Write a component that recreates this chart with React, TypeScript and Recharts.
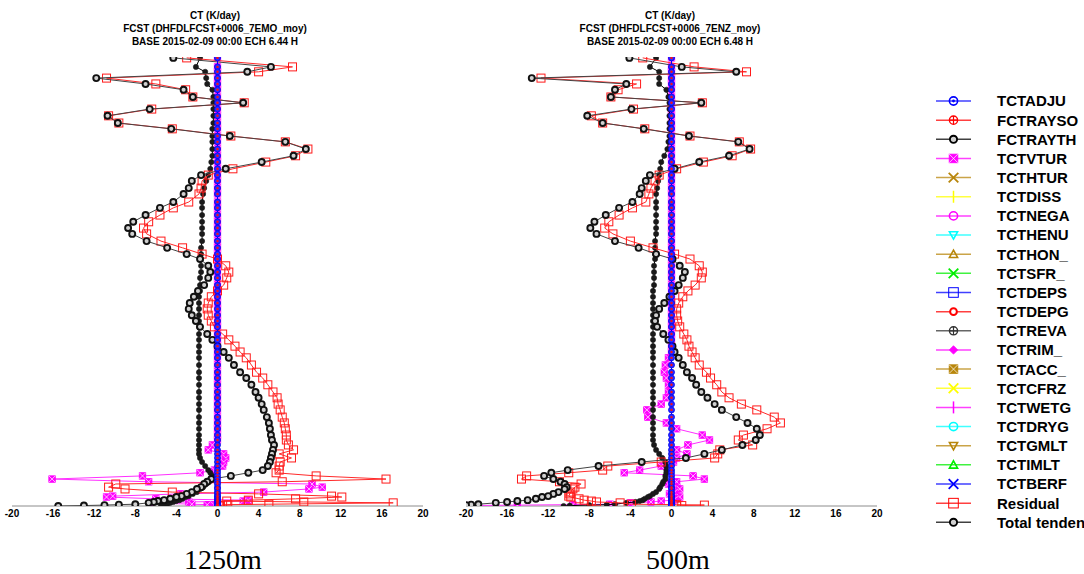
import React from 'react';
import { ScatterChart, Scatter, XAxis, YAxis } from 'recharts';

// model levels (pressure-like vertical coordinate, top -> bottom)
const levels = [
  2, 22, 33, 47, 60, 73, 89, 102, 116, 131,
  147, 160, 176, 189, 205, 220, 234, 249, 263, 276,
  292, 305, 323, 336, 352, 367, 381, 394, 410, 425,
  439, 450, 465, 479, 492, 508, 521, 534, 548, 561,
  575, 588, 601, 617, 630, 644, 657, 670, 686, 702,
  715, 730, 746, 759, 773, 786, 802, 815, 828, 842,
  853, 864, 875, 884, 893, 902, 911, 920, 926, 933,
  940, 946, 951, 958, 962, 969, 973, 978, 980, 984,
  987, 989, 991, 993, 996, 997, 998, 999, 1000,
];

const xTicks = [-20, -16, -12, -8, -4, 0, 4, 8, 12, 16, 20];

const zeroProfile = [
  0, 0, 0, 0, 0, 0, 0, 0, 0, 0,
  0, 0, 0, 0, 0, 0, 0, 0, 0, 0,
  0, 0, 0, 0, 0, 0, 0, 0, 0, 0,
  0, 0, 0, 0, 0, 0, 0, 0, 0, 0,
  0, 0, 0, 0, 0, 0, 0, 0, 0, 0,
  0, 0, 0, 0, 0, 0, 0, 0, 0, 0,
  0, 0, 0, 0, 0, 0, 0, 0, 0, 0,
  0, 0, 0, 0, 0, 0, 0, 0, 0, 0,
  0, 0, 0, 0, 0, 0, 0, 0, 0,
];

// ---- 1250m ----
const total1250 = [
  -4.3, 5.2, 2.9, -11.8, -7.0, -3.3, -2.4, 2.5, -6.6, -10.7,
  -9.7, -4.5, 1.2, 6.6, 8.6, 7.4, 4.3, 0.8, -1.6, -2.5,
  -2.8, -3.3, -4.3, -5.6, -7.0, -8.2, -8.7, -8.3, -6.9, -4.9,
  -3.0, -1.7, -0.9, -0.7, -0.9, -1.3, -1.9, -2.3, -2.7, -2.8,
  -2.5, -2.1, -1.7, -1.0, -0.5, 0.0, 0.6, 1.1, 1.6, 2.2,
  2.8, 3.3, 3.7, 4.0, 4.3, 4.5, 4.8, 5.0, 5.1, 5.2,
  5.3, 5.5, 5.4, 5.3, 5.2, 5.1, 4.9, 4.4, 3.0, 1.3,
  -0.6, -1.0, -1.3, -1.6, -2.0, -2.5, -3.0, -3.5, -4.0, -4.6,
  -5.2, -5.8, -6.2, -6.7, -8.0, -9.6, -11.0, -13.0, -15.5,
];
const residual1250 = [
  -3.0, 7.3, 4.0, -10.8, -6.0, -3.1, -2.4, 2.6, -6.4, -10.6,
  -9.6, -4.4, 1.3, 6.6, 8.8, 7.6, 4.7, 1.5, -0.9, -1.5,
  -1.6, -1.8, -2.8, -4.3, -5.6, -6.7, -7.2, -6.9, -5.5, -3.4,
  -1.5, 0.0, 0.8, 1.1, 0.9, 0.6, 0.0, -0.6, -0.9, -1.0,
  -0.9, -0.6, -0.3, 0.5, 1.1, 1.7, 2.2, 2.8, 3.3, 3.8,
  4.4, 4.9, 5.4, 5.8, 5.9, 6.1, 6.3, 6.5, 6.6, 6.7,
  6.7, 6.9, 7.4, 6.0, 7.2, 6.1, 6.0, 6.0, 5.7, 9.6,
  16.4, 6.3, -9.9, -10.6, -9.0, -4.4, 4.0, 11.1, 12.1, 7.6,
  3.0, 0.9, 8.4, 17.1, 5.0, 1.0, 0.5, 0.3, 0.2,
];
const rayth1250 = [
  -1.7, -2.1, -1.2, -1.1, -1.0, -0.5, -0.4, -0.4, -0.4, -0.4,
  -0.4, -0.5, -0.5, -0.5, -0.5, -0.5, -0.6, -0.7, -0.9, -1.1,
  -1.3, -1.4, -1.5, -1.5, -1.5, -1.5, -1.5, -1.5, -1.5, -1.6,
  -1.6, -1.6, -1.6, -1.6, -1.7, -1.7, -1.7, -1.8, -1.8, -1.8,
  -1.8, -1.8, -1.8, -1.8, -1.8, -1.8, -1.8, -1.8, -1.8, -1.8,
  -1.8, -1.8, -1.8, -1.8, -1.8, -1.8, -1.8, -1.8, -1.8, -1.8,
  -1.8, -1.8, -1.8, -1.8, -1.7, -1.5, -1.2, -0.9, -0.7, -0.5,
  -0.5, -0.8, -1.1, -1.4, -1.7, -2.0, -2.4, -2.8, -3.1, -3.4,
  -3.7, -4.0, -4.3, -4.6, -4.9, -5.1, -5.3, -5.4, -5.5,
];
const vtur1250 = [
  0, 0, 0, 0, 0, 0, 0, 0, 0, 0,
  0, 0, 0, 0, 0, 0, 0, 0, 0, 0,
  0, 0, 0, 0, 0, 0, 0, 0, 0, 0,
  0, 0, 0, 0, 0, 0, 0, 0, 0, 0,
  0, 0, 0, 0, 0, 0, 0, 0, 0, 0,
  0, 0, 0, 0, 0, 0, 0, 0, 0, 0,
  0.0, -0.5, -0.9, 0.6, 0.8, 0.6, 0.5, -0.3, -1.7, -7.3,
  -16.1, -6.7, 9.2, 10.2, 8.9, 4.5, -3.6, -10.2, -10.8, -6.0,
  3.0, 2.5, -2.8, -6.5, -2.5, -1.0, -0.3, 0.0, 0.0,
];

// ---- 500m ----
const total500 = [
  -4.1, 1.0, 6.3, -13.6, -4.4, -5.5, -5.9, 2.9, -3.9, -8.2,
  -6.7, -2.7, 1.7, 6.5, 7.6, 5.6, 2.7, 0.3, -2.1, -2.5,
  -2.9, -3.1, -3.8, -5.1, -6.4, -7.5, -7.9, -7.3, -5.5, -3.2,
  -1.5, 0.1, 0.8, 1.3, 1.1, 0.7, 0.3, -0.2, -0.7, -1.2,
  -1.5, -1.6, -1.4, -0.8, -0.3, 0.1, 0.3, 0.7, 1.1, 1.5,
  2.0, 2.4, 2.9, 3.5, 4.2, 4.9, 6.3, 7.4, 8.3, 8.6,
  8.2, 6.9, 4.9, 3.2, 1.4, -2.9, -7.1, -10.1, -11.7, -12.4,
  -11.5, -10.8, -10.4, -10.2, -10.4, -11.0, -11.5, -12.0, -12.6, -13.2,
  -14.0, -15.0, -16.0, -17.1, -18.8, -19.5, -20.0, -20.5, -21.0,
];
const residual500 = [
  -2.8, 2.2, 7.3, -12.7, -3.4, -5.2, -5.9, 3.0, -3.7, -7.8,
  -6.7, -2.6, 1.8, 6.6, 7.7, 5.9, 3.1, 0.5, -1.2, -1.6,
  -2.0, -2.2, -2.5, -3.8, -5.1, -6.1, -6.5, -5.7, -4.0, -1.8,
  0.3, 1.8, 2.7, 3.0, 2.9, 2.3, 1.6, 1.1, 0.7, 0.5,
  0.5, 0.6, 0.8, 1.2, 1.5, 1.7, 2.0, 2.3, 2.7, 3.4,
  3.8, 4.4, 4.9, 5.6, 6.8, 8.3, 10.0, 10.6, 9.3, 7.0,
  6.5, 7.9, 4.7, 4.5, 4.2, -1.0, -6.2, -6.7, -10.0, -14.1,
  -14.6, -10.9, -8.8, -9.4, -9.6, -9.8, -9.9, -10.0, -9.8, -9.0,
  -8.5, -7.8, -7.3, -5.0, -3.9, 0.5, 3.2, 1.0, 0.5,
];
const rayth500 = [
  -1.5, -2.1, -1.2, -1.2, -1.2, -0.5, -0.3, -0.2, -0.2, -0.2,
  -0.2, -0.2, -0.2, -0.3, -0.4, -0.7, -1.0, -1.1, -1.2, -1.3,
  -1.4, -1.5, -1.5, -1.5, -1.5, -1.5, -1.5, -1.5, -1.6, -1.6,
  -1.6, -1.6, -1.7, -1.7, -1.7, -1.7, -1.8, -1.8, -1.8, -1.8,
  -1.8, -1.8, -1.8, -1.8, -1.8, -1.8, -1.8, -1.8, -1.8, -1.8,
  -1.8, -1.8, -1.8, -1.8, -1.8, -1.8, -1.8, -1.8, -1.8, -1.8,
  -1.8, -1.7, -1.5, -1.2, -0.9, -0.6, -0.5, -0.5, -0.5, -0.6,
  -0.6, -0.8, -0.9, -1.1, -1.2, -1.5, -1.8, -2.1, -2.3, -2.6,
  -2.8, -3.1, -3.5, -4.4, -5.5, -6.3, -8.0, -9.9, -10.5,
];
const vtur500 = [
  0, 0, 0, 0, 0, 0, 0, 0, 0, 0,
  0, 0, 0, 0, 0, 0, 0, 0, 0, 0,
  0, 0, 0, 0, 0, 0, 0, 0, 0, 0,
  0, 0, 0, 0, 0, 0, 0, 0, 0, 0,
  0, 0, 0, 0, 0, 0, 0, -0.3, -0.6, -0.7,
  -0.5, -0.3, -0.3, -0.5, -1.0, -2.4, -2.3, -0.5, 0.5, 3.0,
  3.7, 1.6, 0.5, 1.5, 0.5, 0.2, -1.0, -3.1, -4.6, 2.1,
  3.2, 0.5, -0.3, 0.5, 0.8, 0.3, -0.2, 0.5, 0.8, 0.4,
  0.2, -1.0, -2.0, -4.0, -6.0, -9.6, -15.0, -20.0, -21.0,
];

// legend
const legendNames = [
  'TCTADJU', 'FCTRAYSO', 'FCTRAYTH', 'TCTVTUR', 'TCTHTUR', 'TCTDISS', 'TCTNEGA', 'TCTHENU',
  'TCTHON_', 'TCTSFR_', 'TCTDEPS', 'TCTDEPG', 'TCTREVA', 'TCTRIM_', 'TCTACC_', 'TCTCFRZ',
  'TCTWETG', 'TCTDRYG', 'TCTGMLT', 'TCTIMLT', 'TCTBERF', 'Residual', 'Total tendency',
];
const legendColors = [
  '#0000ff', '#ff0000', '#000000', '#ff00ff', '#b8860b', '#ffff00', '#ff00ff', '#00ffff',
  '#b8860b', '#00ee00', '#0000ff', '#ff0000', '#333333', '#ff00ff', '#b8860b', '#ffff00',
  '#ff00ff', '#00ffff', '#b8860b', '#00ee00', '#0000ff', '#ff0000', '#000000',
];
const legendMarkers = [
  'circleDot', 'circlePlus', 'ring', 'squareX', 'x', 'vbar', 'circle', 'triDown',
  'triUp', 'x', 'square', 'ringThick', 'circlePlus', 'diamond', 'squareX', 'x',
  'vbar', 'circle', 'triDown', 'triUp', 'x', 'square', 'ring',
];

const SANS = '"Liberation Sans", Arial, Helvetica, sans-serif';

function Marker({ kind, color, cx, cy, s = 1 }: { kind: string; color: string; cx: number; cy: number; s?: number }) {
  if (cx == null || cy == null) return null;
  const r = 3.4 * s;
  switch (kind) {
    case 'ring':
      return <circle cx={cx} cy={cy} r={3 * s} fill="#d0d0d0" stroke={color} strokeWidth={1.9} />;
    case 'ringThick':
      return <circle cx={cx} cy={cy} r={2.8 * s} fill="#fff" stroke={color} strokeWidth={2} />;
    case 'dot':
      return <circle cx={cx} cy={cy} r={2.6 * s} fill={color} stroke={color} strokeWidth={0.6} />;
    case 'circle':
      return <circle cx={cx} cy={cy} r={r} fill="none" stroke={color} strokeWidth={1.6} />;
    case 'circleDot':
      return (
        <g>
          <circle cx={cx} cy={cy} r={r} fill="none" stroke={color} strokeWidth={1.6} />
          <circle cx={cx} cy={cy} r={1.2 * s} fill={color} />
        </g>
      );
    case 'circlePlus':
      return (
        <g>
          <circle cx={cx} cy={cy} r={r} fill="none" stroke={color} strokeWidth={1.4} />
          <path d={`M${cx - r} ${cy}H${cx + r}M${cx} ${cy - r}V${cy + r}`} stroke={color} strokeWidth={1.2} />
        </g>
      );
    case 'square':
      return <rect x={cx - 4 * s} y={cy - 4 * s} width={8 * s} height={8 * s} fill="none" stroke={color} strokeWidth={1} />;
    case 'squareX': {
      const h = 3.6 * s;
      return (
        <g>
          <rect x={cx - h} y={cy - h} width={2 * h} height={2 * h} fill={color} stroke={color} strokeWidth={0.8} />
          <path d={`M${cx - h} ${cy - h}L${cx + h} ${cy + h}M${cx - h} ${cy + h}L${cx + h} ${cy - h}`} stroke="#fff" strokeOpacity={0.7} strokeWidth={1} />
        </g>
      );
    }
    case 'x': {
      const h = 4 * s;
      return <path d={`M${cx - h} ${cy - h}L${cx + h} ${cy + h}M${cx - h} ${cy + h}L${cx + h} ${cy - h}`} stroke={color} strokeWidth={1.8} />;
    }
    case 'vbar':
      return <path d={`M${cx} ${cy - 5 * s}V${cy + 5 * s}`} stroke={color} strokeWidth={1.5} />;
    case 'triUp':
      return <path d={`M${cx} ${cy - r}L${cx + r} ${cy + r * 0.8}L${cx - r} ${cy + r * 0.8}Z`} fill="none" stroke={color} strokeWidth={1.6} />;
    case 'triDown':
      return <path d={`M${cx} ${cy + r}L${cx + r} ${cy - r * 0.8}L${cx - r} ${cy - r * 0.8}Z`} fill="none" stroke={color} strokeWidth={1.6} />;
    case 'diamond':
      return <path d={`M${cx} ${cy - r}L${cx + r} ${cy}L${cx} ${cy + r}L${cx - r} ${cy}Z`} fill={color} stroke={color} />;
    case 'colBlue':
      return <circle cx={cx} cy={cy} r={3} fill="#2a2aff" stroke="#0000ee" strokeWidth={0.8} />;
    case 'colRed':
      return <circle cx={cx} cy={cy} r={1.2} fill="#ff1010" />;
    default:
      return null;
  }
}

const toPts = (vals: number[]) => levels.map((p, i) => ({ x: vals[i], y: p }));

interface PanelProps {
  width: number;
  left: number;
  right: number;
  total: number[];
  residual: number[];
  rayth: number[];
  vtur: number[];
}

function Panel({ width, left, right, total, residual, rayth, vtur }: PanelProps) {
  return (
    <ScatterChart width={width} height={530} margin={{ top: 57, right, bottom: 4, left }}>
      <XAxis
        type="number"
        dataKey="x"
        domain={[-20, 20]}
        ticks={xTicks}
        interval={0}
        allowDataOverflow
        height={20}
        tickLine={false}
        tickSize={2}
        stroke="#8c8c8c"
        tick={{ fontSize: 10, fontWeight: 'bold', fill: '#000', fontFamily: SANS }}
      />
      <YAxis
        type="number"
        dataKey="y"
        domain={[0, 1000]}
        reversed
        allowDataOverflow
        width={0}
        tick={false}
        tickLine={false}
        stroke="#8c8c8c"
      />
      <Scatter
        name="TCTVTUR"
        data={toPts(vtur)}
        line={{ stroke: '#ff30ff', strokeWidth: 1 }}
        shape={(p: any) => <Marker kind="squareX" color="#ff00ff" cx={p.cx} cy={p.cy} s={0.9} />}
        isAnimationActive={false}
      />
      <Scatter
        name="FCTRAYTH"
        data={toPts(rayth)}
        line={{ stroke: '#000', strokeWidth: 1 }}
        shape={(p: any) => <Marker kind="dot" color="#1a1a1a" cx={p.cx} cy={p.cy} />}
        isAnimationActive={false}
      />
      <Scatter
        name="Residual"
        data={toPts(residual)}
        line={{ stroke: '#ff2a2a', strokeWidth: 1 }}
        shape={(p: any) => <Marker kind="square" color="#ff1a1a" cx={p.cx} cy={p.cy} />}
        isAnimationActive={false}
      />
      <Scatter
        name="Total tendency"
        data={toPts(total)}
        line={{ stroke: '#444', strokeWidth: 1 }}
        shape={(p: any) => <Marker kind="ring" color="#111" cx={p.cx} cy={p.cy} />}
        isAnimationActive={false}
      />
      <Scatter
        name="TCTADJU"
        data={toPts(zeroProfile)}
        line={{ stroke: '#0000ff', strokeWidth: 1 }}
        shape={(p: any) => <Marker kind="colBlue" color="#0000ff" cx={p.cx} cy={p.cy} />}
        isAnimationActive={false}
      />
      <Scatter
        name="FCTRAYSO"
        data={toPts(zeroProfile)}
        shape={(p: any) => <Marker kind="colRed" color="#ff0000" cx={p.cx} cy={p.cy} />}
        isAnimationActive={false}
      />
    </ScatterChart>
  );
}

function ProfileLegend() {
  return (
    <svg width={164} height={470} style={{ position: 'absolute', left: 920, top: 80 }}>
      {legendNames.map((name, i) => {
        const cy = 21 + i * 19.15;
        const color = legendColors[i];
        return (
          <g key={name}>
            <line x1={16} x2={51} y1={cy} y2={cy} stroke={color} strokeOpacity={0.75} strokeWidth={1.5} />
            <Marker kind={legendMarkers[i]} color={color} cx={33.5} cy={cy} s={1.2} />
            <text x={77} y={cy} dy="0.36em" fontSize={15} fontWeight="bold" fontFamily={SANS} fill="#000">
              {name}
            </text>
          </g>
        );
      })}
    </svg>
  );
}

function Title({ center, lines }: { center: number; lines: string[] }) {
  return (
    <div
      style={{
        position: 'absolute', left: center - 200, top: 9, width: 400, textAlign: 'center',
        fontFamily: SANS, fontWeight: 'bold', fontSize: 10, lineHeight: '13px', color: '#000',
      }}
    >
      {lines.map((l) => <div key={l}>{l}</div>)}
    </div>
  );
}

function Caption({ center, text }: { center: number; text: string }) {
  return (
    <div
      style={{
        position: 'absolute', left: center - 100, top: 546, width: 200, textAlign: 'center',
        fontFamily: '"Liberation Serif", "Times New Roman", serif', fontSize: 28, lineHeight: '28px', color: '#000',
      }}
    >
      {text}
    </div>
  );
}

export default function App() {
  return (
    <div style={{ position: 'absolute', left: 0, top: 0, width: 1084, height: 574, background: '#fff', overflow: 'hidden' }}>
      <div style={{ position: 'absolute', left: 0, top: 0 }}>
        <Panel width={440} left={12} right={17} total={total1250} residual={residual1250} rayth={rayth1250} vtur={vtur1250} />
      </div>
      <div style={{ position: 'absolute', left: 440, top: 0 }}>
        <Panel width={460} left={26} right={23} total={total500} residual={residual500} rayth={rayth500} vtur={vtur500} />
      </div>
      <Title center={215} lines={['CT (K/day)', 'FCST (DHFDLFCST+0006_7EMO_moy)', 'BASE 2015-02-09 00:00 ECH 6.44 H']} />
      <Title center={670} lines={['CT (K/day)', 'FCST (DHFDLFCST+0006_7ENZ_moy)', 'BASE 2015-02-09 00:00 ECH 6.48 H']} />
      <ProfileLegend />
      <Caption center={223} text="1250m" />
      <Caption center={678} text="500m" />
    </div>
  );
}
